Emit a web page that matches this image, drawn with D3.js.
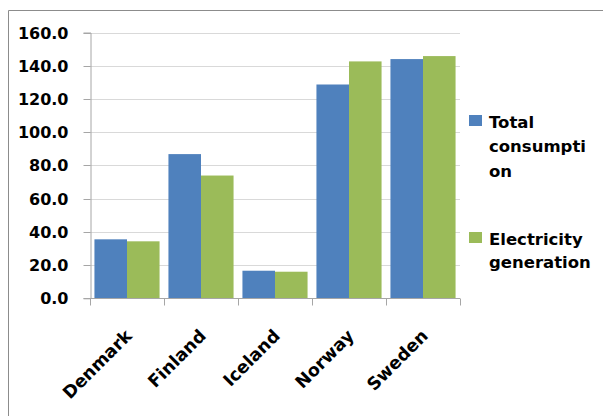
<!DOCTYPE html>
<html>
<head>
<meta charset="utf-8">
<script src="https://cdn.jsdelivr.net/npm/d3@7/dist/d3.min.js"></script>
<style>
  html, body { margin: 0; padding: 0; background: #fff; }
  svg { display: block; }
  text { font-family: "DejaVu Sans", sans-serif; font-weight: bold; fill: #000; }
</style>
</head>
<body>
<svg id="chart" width="603" height="416"></svg>
<script>
const categories = ["Denmark", "Finland", "Iceland", "Norway", "Sweden"];
const seriesNames = ["Total consumption", "Electricity generation"];
const totalConsumption = [35.5, 86.8, 16.6, 128.7, 144.0];
const electricityGeneration = [34.3, 73.9, 16.0, 142.6, 145.8];
const yTicks = [0, 20, 40, 60, 80, 100, 120, 140, 160];
const colors = ["#4F81BD", "#9BBB59"];
const legendLines = [["Total", "consumpti", "on"], ["Electricity", "generation"]];

(function () {
const svg = d3.select("#chart");
svg.append("rect").attr("width", 603).attr("height", 416).attr("fill", "#fff");
svg.append("path").attr("d", "M8.5,416 V10.5 H603").attr("fill", "none").attr("stroke", "#8c8c8c").attr("stroke-width", 1);

const pLeft = 90, pRight = 460, pTop = 32.5, pBottom = 298.3;
const x0 = d3.scaleBand().domain(categories).range([pLeft, pRight]).paddingInner(0.12).paddingOuter(0.06);
const x1 = d3.scaleBand().domain([0, 1]).range([0, x0.bandwidth()]);
const y = d3.scaleLinear().domain([0, 160]).range([pBottom, pTop]);

svg.append("g").selectAll("line").data(yTicks.filter(d => d > 0)).join("line")
  .attr("x1", pLeft).attr("x2", pRight)
  .attr("y1", d => Math.round(y(d)) + 0.5).attr("y2", d => Math.round(y(d)) + 0.5)
  .attr("stroke", "#d9d9d9").attr("stroke-width", 1);

const yAxis = svg.append("g").attr("transform", `translate(${pLeft + 0.5},0)`)
  .call(d3.axisLeft(y).tickValues(yTicks).tickFormat(d3.format(".1f")).tickSize(7).tickPadding(15));
yAxis.select(".domain").attr("stroke", "#a6a6a6");
yAxis.selectAll(".tick line").attr("stroke", "#a6a6a6");
yAxis.selectAll(".tick text").attr("font-size", 16).attr("font-family", "DejaVu Sans").attr("font-weight", "bold").attr("fill", "#000");
yAxis.selectAll(".tick").attr("transform", d => `translate(0,${Math.round(y(d)) + 0.5})`);

const data = categories.map((c, i) => ({ c, v: [totalConsumption[i], electricityGeneration[i]] }));
const groups = svg.append("g").selectAll("g").data(data).join("g")
  .attr("transform", d => `translate(${x0(d.c)},0)`);
groups.selectAll("rect").data(d => d.v.map((v, k) => ({ v, k }))).join("rect")
  .attr("x", d => x1(d.k)).attr("width", x1.bandwidth())
  .attr("y", d => y(d.v)).attr("height", d => y(0) - y(d.v))
  .attr("fill", d => colors[d.k]);

const xb = Math.round(pBottom) + 0.5;
svg.append("line").attr("x1", pLeft).attr("x2", pRight).attr("y1", xb).attr("y2", xb).attr("stroke", "#a6a6a6");
const boundaries = d3.range(categories.length + 1).map(i => pLeft + i * (pRight - pLeft) / categories.length);
svg.append("g").selectAll("line").data(boundaries).join("line")
  .attr("x1", d => Math.round(d) + 0.5).attr("x2", d => Math.round(d) + 0.5)
  .attr("y1", xb).attr("y2", xb + 7).attr("stroke", "#a6a6a6");

svg.append("g").selectAll("text").data(categories).join("text")
  .attr("transform", d => `translate(${x0(d) + x0.bandwidth() / 2 + 6},${337}) rotate(-45)`)
  .attr("text-anchor", "end")
  .attr("font-size", 17.5)
  .text(d => d);

const legendTops = [115, 232];
seriesNames.forEach((s, i) => {
  const g = svg.append("g").attr("class", "legend");
  g.append("rect").attr("x", 469).attr("y", legendTops[i]).attr("width", 13).attr("height", 11).attr("fill", colors[i]);
  legendLines[i].forEach((t, j) => {
    g.append("text").attr("x", 489).attr("y", legendTops[i] + 12.5 + j * (i === 0 ? 24.5 : 23.5))
      .attr("font-size", 16.5).text(t);
  });
});
})();
</script>
</body>
</html>
